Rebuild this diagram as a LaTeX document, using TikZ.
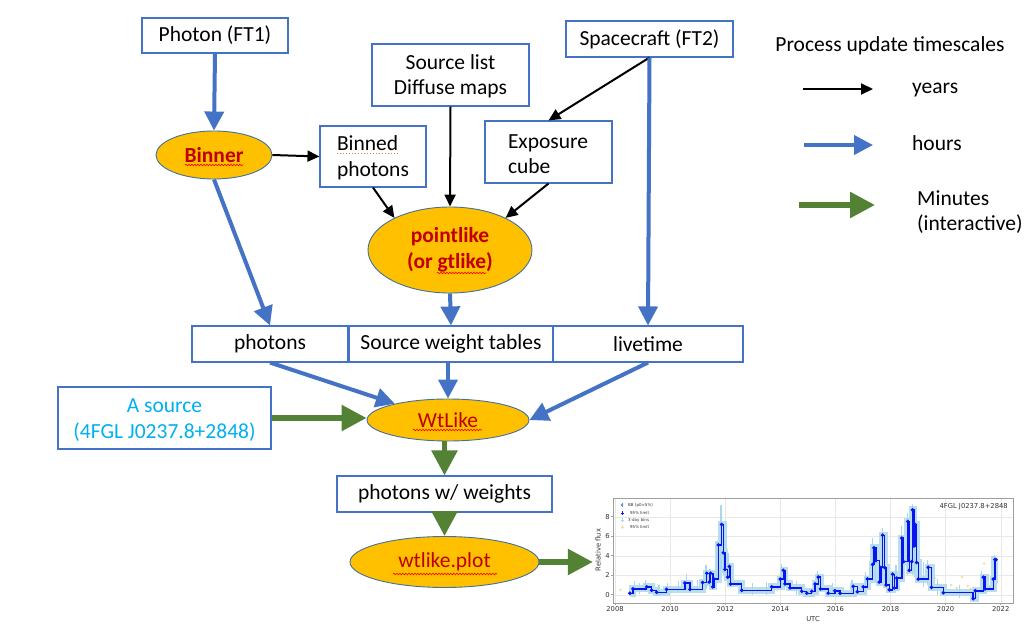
\documentclass[tikz,border=0pt]{standalone}
\usepackage{fontspec}
\setmainfont{Carlito}
\newfontfamily\plotfont{DejaVu Sans}
\usetikzlibrary{arrows.meta,shapes.geometric,decorations.pathmorphing}
\definecolor{oblue}{HTML}{4472C4}
\definecolor{ogreen}{HTML}{548235}
\definecolor{ogold}{HTML}{FFC000}
\definecolor{ored}{HTML}{C00000}
\definecolor{ocyan}{HTML}{00B0F0}
\definecolor{oedge}{HTML}{41719C}
\definecolor{lblue}{HTML}{A8D8EA}
\definecolor{lorange}{HTML}{FBD5A5}
\definecolor{dblue}{HTML}{0A14F0}
\begin{document}
\begin{tikzpicture}[x=1pt,y=-1pt,
  font=\fontsize{21.5}{25.5}\selectfont,
  box/.style={draw=oblue, line width=1.1pt, fill=white, inner sep=0pt, align=center},
  oval/.style={ellipse, draw=oedge, line width=0.9pt, fill=ogold, inner sep=0pt, text=ored, align=center},
  blk/.style={draw=black, line width=2pt, -{Triangle[length=12pt,width=11pt]}},
  blu/.style={draw=oblue, line width=4pt, -{Triangle[length=19pt,width=19pt]}},
  grn/.style={draw=ogreen, line width=5.5pt, -{Triangle[length=25pt,width=25pt]}},
  wavy/.style={draw=red, line width=0.6pt, decorate, decoration={snake, amplitude=0.8pt, segment length=3pt}},
  ticklab/.style={font=\plotfont\fontsize{6.8}{8}\selectfont, text=black!80, inner sep=1pt},
  leglab/.style={font=\plotfont\fontsize{4}{5}\selectfont, text=black!80, inner sep=0pt, anchor=west},
]
\fill[white] (0,0) rectangle (1029,637);
\useasboundingbox (0,0) rectangle (1029,637);

% ---------- nodes ----------
\node[box, minimum width=146pt, minimum height=35pt] (ph) at (215,35.5) {Photon (FT1)};
\node[box, minimum width=157pt, minimum height=62pt] (sl) at (450.5,75) {\strut Source list\\Diffuse maps};
\node[box, minimum width=167pt, minimum height=36pt] (sc) at (649.5,39) {Spacecraft (FT2)};
\node[oval, minimum width=116pt, minimum height=48pt, font=\fontsize{21.5}{25.5}\selectfont\bfseries] (bn) at (214,155) {Binner};
\node[box, minimum width=106pt, minimum height=61pt, text width=72pt, align=left] (bp) at (373,156.5) {\strut Binned\\photons};
\node[box, minimum width=127pt, minimum height=62pt, text width=81pt, align=left] (ec) at (548.5,152) {\strut Exposure\\cube};
\node[oval, minimum width=164pt, minimum height=86pt, font=\fontsize{21.5}{26}\selectfont\bfseries] (pl) at (450,250) {pointlike\\(or gtlike)};
\node[box, minimum width=156pt, minimum height=36pt] (phb) at (270,344) {photons};
\node[box, minimum width=204pt, minimum height=36pt] (swt) at (451,344) {Source weight tables};
\node[box, minimum width=190pt, minimum height=36pt] (lt) at (648,344) {livetime};
\node[oval, minimum width=162pt, minimum height=42pt] (wl) at (448,420) {WtLike};
\node[box, minimum width=213pt, minimum height=62pt, text=ocyan] (as) at (164.5,418) {\strut A source\\(4FGL J0237.8+2848)};
\node[box, minimum width=215pt, minimum height=36pt] (pw) at (444.5,494) {photons w/ weights};
\node[oval, minimum width=189pt, minimum height=51pt] (wp) at (444.5,562) {wtlike.plot};
\node[minimum width=422pt, minimum height=132pt, inner sep=0pt] (chart) at (804,561) {};

% ---------- connectors ----------
\draw[blu] (ph.south) -- (bn.north);
\draw[blk] (bn.east) -- (bp.west);
\draw[blu] (bn.south) -- (phb.north);
\draw[blk] (sl.south) -- (pl.north);
\draw[blk] (bp.south) -- (pl.150);
\draw[blk] (ec.south) -- (pl.30);
\draw[blk] (sc.south) -- (ec.north);
\draw[blu] (sc.south) -- (lt.north);
\draw[blu] (pl.south) -- (swt.north);
\draw[blu] (phb.south) -- (wl.163);
\draw[blu] (swt.south -| wl.north) -- (wl.north);
\draw[blu] (lt.south) -- (wl.east);
\draw[grn] (as.east) -- (as.east -| wl.west);
\draw[grn] (pw.north |- wl.south) -- (pw.north);
\draw[grn] (pw.south) -- (wp.north);
\draw[grn] (wp.east) -- (wp.east -| chart.west);

% ---------- spell-check marks ----------
\draw[wavy] (185,165) -- (243,165);
\draw[wavy] (437,273) -- (486,273);
\draw[wavy] (413,430) -- (482,430);
\draw[wavy] (393,574) -- (497,574);
\draw[draw=brown!60!orange, dotted, line width=1pt] (337,153) -- (398,153);

% ---------- legend ----------
\node[anchor=base] (lgt) at (890,51) {Process update timescales};
\coordinate (k1a) at (803,89); \coordinate (k1b) at (873,89);
\coordinate (k2a) at (804,145); \coordinate (k2b) at (873,145);
\coordinate (k3a) at (799,205); \coordinate (k3b) at (875,205);
\draw[blk] (k1a) -- (k1b);
\draw[blu] (k2a) -- (k2b);
\draw[grn] (k3a) -- (k3b);
\node[anchor=base west, inner sep=0pt] (ly) at (912,93) {years};
\node[anchor=base west, inner sep=0pt] (lh) at (912,150) {hours};
\node[anchor=base west, inner sep=0pt] (lm) at (917,205) {Minutes};
\node[anchor=base west, inner sep=0pt] (li) at (917,230) {(interactive)};

% ---------- light-curve plot ----------
\begin{scope}[shift={(615,594.7)}, x=27.55pt, y=9.75pt]
  \foreach \t in {0,2,...,14} \draw[gray!18, line width=0.4pt] (\t,-0.85) -- (\t,9.92);
  \foreach \v in {0,2,...,8} \draw[gray!18, line width=0.4pt] (-0.073,\v) -- (14.45,\v);
  % orange limits
  \foreach \p in {(4.7,0.5),(4.9,0.4),(5.2,0.55),(5.5,0.45),(5.9,0.5),(6.4,0.6),(6.7,0.5),(7.0,0.4),(7.9,0.5),(8.3,0.4),(11.6,1.7),(11.8,0.9),(12.0,0.8),(12.2,1.0),(12.4,0.7),(12.6,1.8),(12.8,0.9),(12.9,0.6),(13.1,0.5),(13.4,3.2),(13.6,0.8),(10.0,0.8),(9.9,0.4),(0.6,0.6),(0.2,0.5)}
    \fill[lorange] \p circle[radius=1.3pt];
  % light blue 3-day bins
  \foreach \t/\a/\b in {0.7/0.2/1.4,0.9/0.1/1.2,1.1/0.3/1.5,1.6/0.0/1.0,1.9/0.1/1.2,2.3/0.2/1.4,2.6/0.5/2.1,3.0/0.2/1.5,3.3/0.6/3.0,3.45/0.8/2.6,3.7/1.5/5.5,3.85/2.5/9.2,3.95/2.0/6.5,4.1/1.0/4.3,5.0/0.0/1.2,5.5/0.0/1.3,6.05/1.0/3.1,6.15/0.5/2.6,6.6/0.0/1.4,7.35/0.4/2.4,7.9/0.0/1.2,8.6/0.2/1.5,9.1/0.5/2.3,9.35/1.4/5.8,9.45/1.2/4.8,9.7/1.5/6.8,10.2/0.8/3.0,10.4/1.8/7.0,10.62/2.0/8.4,10.8/2.0/9.3,10.88/1.8/8.0,11.2/0.8/3.4,11.35/1.0/3.6,11.7/0.0/1.6,12.5/-0.3/1.0,13.3/0.5/2.4,13.78/1.2/4.1}
    \draw[lblue, line width=1.2pt] (\t,\a) -- (\t,\b);
  \draw[lblue, line width=7pt, opacity=0.8] plot[const plot] coordinates {(0.54,0.15) (0.65,0.6) (1.15,0.8) (1.33,0.45) (1.51,0.25) (1.87,0.55) (2.54,1.2) (2.72,0.55) (3.18,1.25) (3.33,2.2) (3.42,1.3) (3.47,2.2) (3.55,0.8) (3.59,1.6) (3.75,5.1) (3.87,7.2) (3.93,4.3) (3.99,2.6) (4.09,1.8) (4.15,2.9) (4.2,1.1) (4.6,0.45) (5.69,0.8) (6.0,1.6) (6.11,2.5) (6.17,1.1) (6.35,0.7) (6.78,0.35) (6.96,0.15) (7.14,0.35) (7.26,1.1) (7.38,1.8) (7.46,0.6) (7.74,0.15) (7.98,0.4) (8.17,0.15) (8.65,0.85) (8.8,0.3) (9.01,0.8) (9.16,1.6) (9.35,3.1) (9.4,4.8) (9.47,3.5) (9.59,1.3) (9.65,2.8) (9.71,6.1) (9.78,2.8) (9.84,1.0) (9.96,0.5) (10.08,2.1) (10.14,0.7) (10.23,1.7) (10.41,5.8) (10.47,3.4) (10.63,7.5) (10.68,2.5) (10.77,3.4) (10.8,8.7) (10.85,5.0) (10.89,7.2) (10.95,3.3) (11.01,1.6) (11.37,2.8) (11.49,0.75) (11.92,0.2) (13.0,-0.4) (13.08,0.4) (13.37,1.8) (13.43,0.6) (13.73,1.6) (13.79,3.6) (13.83,3.6)};
  \draw[dblue, line width=1.4pt, mark=*, mark size=1pt, mark options={fill=dblue, draw=dblue}] plot[const plot] coordinates {(0.54,0.15) (0.65,0.6) (1.15,0.8) (1.33,0.45) (1.51,0.25) (1.87,0.55) (2.54,1.2) (2.72,0.55) (3.18,1.25) (3.33,2.2) (3.42,1.3) (3.47,2.2) (3.55,0.8) (3.59,1.6) (3.75,5.1) (3.87,7.2) (3.93,4.3) (3.99,2.6) (4.09,1.8) (4.15,2.9) (4.2,1.1) (4.6,0.45) (5.69,0.8) (6.0,1.6) (6.11,2.5) (6.17,1.1) (6.35,0.7) (6.78,0.35) (6.96,0.15) (7.14,0.35) (7.26,1.1) (7.38,1.8) (7.46,0.6) (7.74,0.15) (7.98,0.4) (8.17,0.15) (8.65,0.85) (8.8,0.3) (9.01,0.8) (9.16,1.6) (9.35,3.1) (9.4,4.8) (9.47,3.5) (9.59,1.3) (9.65,2.8) (9.71,6.1) (9.78,2.8) (9.84,1.0) (9.96,0.5) (10.08,2.1) (10.14,0.7) (10.23,1.7) (10.41,5.8) (10.47,3.4) (10.63,7.5) (10.68,2.5) (10.77,3.4) (10.8,8.7) (10.85,5.0) (10.89,7.2) (10.95,3.3) (11.01,1.6) (11.37,2.8) (11.49,0.75) (11.92,0.2) (13.0,-0.4) (13.08,0.4) (13.37,1.8) (13.43,0.6) (13.73,1.6) (13.79,3.6) (13.83,3.6)};
  % frame and ticks
  \draw[gray!75, line width=0.6pt] (-0.073,-0.85) rectangle (14.45,9.92);
  \foreach \t/\yr in {0/2008,2/2010,4/2012,6/2014,8/2016,10/2018,12/2020,14/2022} {
    \draw[gray!75, line width=0.5pt] (\t,-0.85) -- ++(0,-2pt);
    \node[ticklab, anchor=north] at ([yshift=-2pt]\t,-0.85) {\yr};
  }
  \foreach \v in {0,2,4,6,8} {
    \draw[gray!75, line width=0.5pt] (-0.073,\v) -- ++(-2pt,0);
    \node[ticklab, anchor=east] at ([xshift=-2pt]-0.073,\v) {\v};
  }
\end{scope}
\node[ticklab, rotate=90] (ylab) at (598,550) {Relative flux};
\node[ticklab] (xlab) at (813,619) {UTC};
\node[ticklab, anchor=east, font=\plotfont\fontsize{6.8}{8}\selectfont] (src) at (1009,507) {4FGL J0237.8+2848};
% plot legend
\fill[oblue!80] (622,505) circle[radius=1.4pt];
\draw[oblue!80, line width=0.6pt] (622,503) -- (622,507);
\draw[dblue, line width=0.8pt] (620.5,513) -- (623.5,513) (622,511) -- (622,515);
\draw[lblue, line width=0.8pt] (620.5,520) -- (623.5,520) (622,518) -- (622,522);
\draw[lorange, line width=0.8pt] (620.5,527) -- (623.5,527) (622,525) -- (622,529);
\node[leglab] (l1) at (628,505) {BB (p0=5\%)};
\node[leglab] (l2) at (630,513) {95\% limit};
\node[leglab] (l3) at (628,520) {3-day bins};
\node[leglab] (l4) at (630,527) {95\% limit};
\end{tikzpicture}
\end{document}
